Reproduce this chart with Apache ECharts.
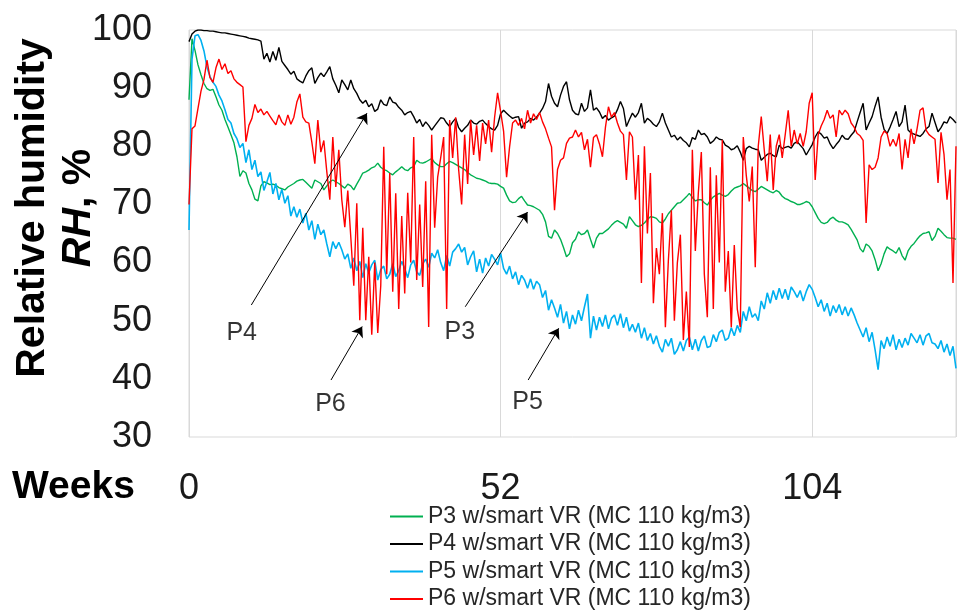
<!DOCTYPE html>
<html><head><meta charset="utf-8">
<script src="https://cdn.jsdelivr.net/npm/echarts@6/dist/echarts.min.js"></script>
<style>html,body{margin:0;padding:0;background:#fff}#c{width:959px;height:610px}</style>
</head><body><div id="c"></div>
<script>
// sampling step of the readings, in weeks
const STEP = 0.5;
const xTicks = [0, 52, 104];
const names = ['P3 w/smart VR (MC 110 kg/m3)', 'P4 w/smart VR (MC 110 kg/m3)', 'P5 w/smart VR (MC 110 kg/m3)', 'P6 w/smart VR (MC 110 kg/m3)'];

// P3 (green)
const p3 = [
88.0, 98.5, 96.5, 94.0, 92.3, 90.8, 89.9, 89.6, 89.8, 88.5,
87.1, 86.2, 84.6, 83.3, 82.0, 80.6, 78.2, 74.8, 75.8, 75.4,
73.6, 72.5, 70.9, 70.6, 73.2, 73.9, 73.7, 73.4, 73.5, 73.3,
72.9, 72.7, 72.5, 73.0, 73.3, 73.6, 74.0, 74.2, 74.3, 73.8,
73.3, 72.8, 74.2, 73.9, 73.6, 72.5, 73.2, 73.9, 74.2, 73.9,
73.6, 73.2, 72.8, 73.5, 73.2, 72.5, 73.5, 74.4, 75.4, 75.6,
75.9, 76.3, 76.5, 77.1, 76.4, 76.0, 75.8, 75.4, 75.1, 75.6,
76.0, 76.5, 76.0, 75.8, 76.3, 76.5, 77.6, 77.2, 77.1, 77.3,
77.6, 77.9, 77.2, 76.8, 76.5, 76.5, 77.0, 77.4, 77.2, 76.9,
76.6, 76.3, 76.0, 75.5, 75.1, 74.8, 74.5, 74.4, 74.2, 74.0,
73.7, 73.6, 73.6, 73.5, 73.1, 72.8, 71.6, 70.6, 70.3, 70.4,
71.0, 71.4, 70.6, 69.9, 69.8, 69.6, 69.3, 69.0, 68.3, 67.0,
64.5, 64.2, 65.6, 65.0, 64.0, 62.6, 61.0, 61.5, 63.4, 64.0,
65.3, 64.8, 65.0, 65.6, 64.0, 62.5, 64.2, 65.0, 65.0, 65.4,
65.8, 66.4, 66.9, 67.2, 66.9, 66.6, 65.9, 67.9, 67.2, 66.5,
66.2, 66.4, 66.8, 67.4, 67.9, 67.8, 67.6, 67.0, 66.8, 67.5,
68.4, 69.0, 69.6, 70.2, 70.3, 70.8, 71.3, 71.9, 71.2, 70.6,
70.8, 70.8, 70.3, 69.9, 70.7, 71.3, 71.6, 71.9, 71.6, 71.4,
71.7, 72.3, 72.8, 73.0, 73.2, 73.6, 73.2, 72.8, 72.4, 72.2,
72.6, 73.1, 72.8, 72.5, 72.2, 72.0, 72.4, 72.1, 71.4, 71.0,
70.8, 70.5, 70.3, 70.0, 70.0, 70.2, 70.5, 70.3, 69.6, 68.6,
67.6, 66.9, 66.7, 66.9, 67.5, 67.8, 67.3, 67.0, 67.0, 66.8,
66.5, 65.7, 64.8, 63.9, 62.4, 61.8, 63.2, 62.8, 62.0, 60.5,
58.6, 59.8, 61.5, 62.7, 62.3, 62.0, 61.6, 62.6, 61.2, 60.4,
62.0, 62.8, 63.3, 64.0, 64.6, 65.0, 65.1, 65.3, 63.8, 64.5,
65.9, 65.4, 64.8, 64.3, 64.2, 64.2, 64.0
];

// P4 (black)
const p4 = [
98.0, 99.3, 99.8, 100, 100, 99.9, 99.9, 99.8, 99.8, 99.7,
99.6, 99.5, 99.5, 99.4, 99.3, 99.2, 99.1, 99.0, 98.9, 98.8,
98.6, 98.5, 98.4, 98.3, 98.1, 95.0, 96.0, 94.5, 96.3, 94.8,
97.0, 94.6, 93.9, 93.2, 92.4, 92.9, 91.6, 91.2, 90.9, 92.1,
93.0, 93.5, 90.8, 91.8, 92.6, 92.0, 92.8, 93.7, 91.6, 90.5,
89.2, 91.4, 90.6, 89.7, 91.4, 89.9, 89.1, 88.0, 87.4, 87.9,
86.8, 87.3, 86.0, 86.4, 88.0, 87.2, 87.0, 88.5, 87.6, 87.4,
86.7, 86.2, 85.4, 85.8, 86.0, 85.1, 84.0, 84.6, 83.4, 84.2,
83.6, 82.8, 83.5, 84.2, 84.9, 84.8, 84.0, 83.4, 84.2, 84.8,
83.2, 82.5, 83.1, 83.6, 84.5, 84.0, 83.8, 84.3, 84.5, 83.9,
83.4, 83.0, 82.8, 83.6, 85.6, 86.2, 85.7, 85.2, 84.8, 85.0,
85.1, 83.1, 84.0, 84.2, 84.8, 84.5, 85.0, 85.7, 86.5, 87.7,
90.8, 88.6, 87.4, 86.8, 88.8, 90.3, 91.1, 88.0, 86.2, 85.6,
85.4, 87.4, 86.0, 86.6, 89.7, 86.2, 86.6, 85.9, 84.8, 85.3,
84.5, 84.9, 85.2, 86.3, 87.7, 86.5, 83.4, 84.6, 85.7, 85.0,
85.8, 87.4, 84.0, 84.8, 84.4, 83.8, 83.4, 84.2, 85.7, 84.0,
82.8, 81.6, 81.9, 81.1, 81.6, 81.0, 80.6, 79.9, 81.5, 81.2,
82.8, 82.0, 82.2, 81.6, 80.5, 80.9, 81.6, 81.2, 81.1, 80.2,
79.9, 79.4, 79.6, 80.1, 79.0, 77.6, 79.6, 80.0, 79.7, 79.5,
79.4, 77.6, 78.1, 78.6, 78.8, 78.4, 78.2, 80.2, 79.6, 79.8,
80.0, 79.7, 80.5, 80.8, 80.2, 79.6, 78.5, 79.4, 80.3, 81.6,
82.5, 82.1, 81.4, 81.6, 80.4, 79.6, 80.3, 80.9, 81.9, 81.3,
81.2, 81.9, 82.5, 84.2, 85.8, 87.4, 82.8, 84.0, 85.1, 86.9,
88.5, 85.0, 82.9, 82.2, 83.3, 84.6, 86.0, 83.4, 84.2, 87.1,
82.8, 82.3, 82.1, 81.9, 81.7, 82.2, 83.0, 83.4, 85.7, 84.1,
82.5, 83.2, 84.2, 84.0, 85.1, 84.6, 84.0
];

// P5 (blue)
const p5 = [
65.6, 95.0, 99.0, 99.2, 98.2, 96.4, 93.6, 92.0, 91.0, 90.3,
88.8, 87.8, 86.3, 84.6, 84.0, 82.2, 81.3, 79.8, 80.5, 77.2,
79.4, 76.0, 77.6, 74.8, 75.6, 72.4, 73.9, 75.5, 71.8, 73.6,
70.8, 72.6, 70.2, 71.5, 68.0, 69.6, 67.8, 69.2, 66.8, 68.5,
65.6, 67.2, 64.0, 66.6, 64.8, 65.6, 63.2, 61.0, 63.6, 62.4,
63.5, 62.2, 60.6, 61.5, 59.0, 60.8, 58.6, 60.2, 57.4, 59.8,
58.2, 59.6, 60.4, 57.0, 58.8, 59.4, 57.2, 58.0, 59.8, 57.6,
58.6, 60.2, 59.0, 57.4, 59.6, 60.4, 58.4, 57.8, 59.8, 60.6,
59.2, 61.6, 60.8, 62.2, 60.0, 58.6, 61.2, 59.4, 61.8, 62.4,
63.2, 61.8, 62.6, 59.6, 61.0, 62.0, 58.4, 60.6, 58.2, 60.8,
59.4, 61.4, 60.6, 59.6, 61.6, 59.0, 58.0, 59.4, 57.2, 58.4,
56.2, 57.8, 57.0, 55.6, 57.2, 55.4, 56.8, 56.2, 54.0, 55.2,
51.8, 53.6, 52.2, 50.6, 52.8, 49.6, 51.6, 48.6, 51.0, 49.4,
51.8, 50.0, 52.4, 54.6, 47.0, 50.8, 48.4, 50.6, 49.0, 51.0,
48.6, 50.4, 51.0, 49.2, 51.2, 48.8, 50.6, 48.2, 49.4, 48.0,
49.6, 47.0, 48.8, 46.6, 47.8, 46.0, 47.4, 45.6, 44.6, 46.8,
45.6, 47.0, 44.2, 45.0, 46.4, 44.8, 46.6, 47.2, 45.0, 46.8,
44.8, 46.6, 47.4, 45.4, 45.6, 47.6, 46.4, 48.0, 48.4, 46.6,
47.0, 48.8, 47.4, 49.2, 48.0, 51.6, 50.0, 52.4, 50.6, 51.2,
50.0, 53.4, 52.0, 54.8, 53.0, 55.2, 53.6, 55.6, 53.8, 55.4,
53.6, 55.8, 55.0, 54.0, 55.2, 53.4, 55.0, 56.2, 55.4, 54.0,
52.4, 53.6, 51.6, 53.0, 50.8, 52.6, 51.4, 52.8, 51.0, 52.4,
50.8, 52.2, 51.0, 49.6, 48.4, 47.2, 48.8, 46.4, 48.0, 45.0,
41.6, 46.6, 45.2, 47.2, 45.6, 47.6, 45.0, 46.8, 45.4, 47.0,
45.8, 47.8, 47.0, 46.2, 47.6, 45.8, 47.4, 47.8, 46.2, 46.0,
45.2, 46.6, 44.6, 46.0, 44.0, 45.6, 41.8
];

// P6 (red)
const p6 = [
70.0, 83.0, 83.5, 86.5, 89.5, 91.5, 94.8, 91.8, 91.0, 93.5,
95.0, 93.2, 94.2, 92.5, 93.0, 91.6, 91.0, 90.6, 90.2, 80.8,
83.6, 84.8, 87.2, 85.8, 86.4, 85.4, 86.0, 85.2, 84.4, 83.7,
85.4, 84.2, 83.6, 85.4, 83.8, 85.0, 87.6, 89.0, 85.0, 84.2,
84.0, 80.7, 77.0, 84.5, 79.0, 81.0, 75.6, 70.8, 81.6, 73.0,
79.4, 70.8, 66.1, 72.4, 64.4, 56.0, 70.2, 50.1, 66.0, 50.1,
61.0, 47.6, 60.0, 47.9, 56.0, 79.9, 58.0, 75.4, 55.0, 71.9,
52.0, 68.0, 54.7, 72.0, 60.0, 81.6, 57.0, 70.0, 55.8, 74.0,
48.9, 82.0, 66.0, 74.7, 78.0, 81.6, 52.0, 84.5, 78.0, 85.0,
76.0, 70.0, 82.0, 73.5, 84.5, 78.5, 83.6, 77.5, 84.0, 80.4,
84.5, 79.0, 85.0, 89.2, 86.0, 82.6, 74.7, 79.9, 84.0, 84.5,
83.6, 84.8, 83.0, 86.2, 84.0, 85.6, 84.6, 85.8, 84.2, 83.0,
81.4, 79.9, 69.0, 76.0, 77.6, 78.0, 80.5, 81.4, 81.6, 82.8,
81.6, 82.4, 79.4, 81.2, 76.4, 81.5, 82.0, 80.4, 78.2, 83.3,
86.8, 85.0, 85.8, 84.0, 82.6, 82.0, 74.2, 82.5, 81.6, 70.8,
78.5, 56.5, 80.0, 65.0, 75.4, 53.0, 62.5, 58.0, 68.5, 48.9,
60.4, 69.0, 50.0, 60.0, 64.8, 46.7, 55.0, 45.5, 79.4, 62.0,
72.0, 79.0, 58.0, 50.6, 76.4, 52.0, 75.0, 60.0, 81.1, 55.0,
62.0, 48.9, 63.0, 52.0, 48.9, 81.6, 75.0, 70.5, 76.5, 59.2,
80.0, 85.1, 79.4, 74.0, 82.0, 72.5, 80.0, 82.0, 78.0, 82.0,
86.2, 80.0, 82.8, 80.4, 82.2, 80.0, 82.5, 87.4, 89.2, 74.2,
82.0, 83.5, 84.6, 86.2, 84.8, 85.4, 81.6, 86.2, 85.4, 86.2,
85.6, 84.0, 83.3, 82.2, 81.8, 81.0, 66.8, 76.8, 76.0, 76.4,
78.0, 81.6, 82.6, 82.2, 80.0, 81.2, 80.0, 82.2, 76.0, 81.2,
78.0, 83.0, 80.4, 83.0, 86.2, 86.6, 82.8, 82.0, 81.6, 81.2,
73.7, 82.4, 78.6, 70.8, 76.0, 56.5, 80.0
];

// arrow annotations: label position, arrow tail, arrow head (week, RH)
const annLabels = ['P4', 'P6', 'P3', 'P5'];
const annText = [[8.8, 47.9], [23.6, 35.7], [45.2, 48.1], [56.5, 36.0]];
const annFrom = [[10.4, 52.7], [23.7, 39.8], [46.1, 52.4], [56.6, 39.8]];
const annTo = [[29.7, 85.7], [28.9, 49.0], [56.5, 68.7], [61.7, 48.7]];

const FONT = '"Liberation Sans", Arial, sans-serif';
const colors = ['#00B050', '#000000', '#00B0F0', '#FF0000'];
const widths = [1.4, 1.4, 1.6, 1.4];
const values = [p3, p4, p5, p6];

function pairs(vals) { return vals.map((v, i) => [i * STEP, v]); }

const chart = echarts.init(document.getElementById('c'), null, {renderer: 'canvas'});

const series = values.map((vals, k) => ({
  name: names[k], type: 'line', data: pairs(vals), symbol: 'none', showSymbol: false,
  lineStyle: {color: colors[k], width: widths[k]}, itemStyle: {color: colors[k]},
  silent: true, emphasis: {disabled: true}, animation: false
}));

series.push({
  name: 'arrows', type: 'line', data: [], silent: true, animation: false,
  markLine: {
    silent: true, animation: false, symbol: ['none', 'arrow'], symbolSize: 10,
    lineStyle: {color: '#000', width: 1, type: 'solid'}, label: {show: false},
    emphasis: {disabled: true},
    data: annFrom.map((f, i) => [{coord: f}, {coord: annTo[i]}])
  }
});
series.push({
  name: 'labels', type: 'scatter', silent: true, animation: false,
  symbolSize: 1, itemStyle: {color: 'rgba(0,0,0,0)'},
  data: annText.map((t, i) => ({value: t, name: annLabels[i]})),
  label: {show: true, position: 'inside', formatter: '{b}', fontSize: 25, color: '#000', fontFamily: FONT}
});

chart.setOption({
  animation: false,
  backgroundColor: '#fff',
  grid: {left: 189, right: 0, top: 30, bottom: 173, show: true, borderColor: '#d9d9d9', borderWidth: 1, backgroundColor: 'transparent'},
  xAxis: {
    type: 'value', min: 0, max: 128, interval: 52,
    axisLine: {show: false}, axisTick: {show: false},
    splitLine: {show: true, lineStyle: {color: '#d9d9d9', width: 1}},
    axisLabel: {margin: 34, fontSize: 36, color: '#1a1a1a', fontFamily: FONT,
      formatter: v => (xTicks.indexOf(v) >= 0 ? String(v) : '')}
  },
  yAxis: {
    type: 'value', min: 30, max: 100, interval: 10,
    axisLine: {show: false}, axisTick: {show: false}, splitLine: {show: false},
    axisLabel: {margin: 37, fontSize: 36, color: '#1a1a1a', fontFamily: FONT}
  },
  legend: {
    orient: 'vertical', left: 390, top: 505, width: 400, height: 130, padding: 0,
    itemWidth: 33, itemHeight: 2, itemGap: 4.5,
    icon: 'rect', selectedMode: false, data: names,
    textStyle: {fontSize: 23, color: '#262626', fontFamily: FONT, lineHeight: 23}
  },
  graphic: [
    {type: 'text', x: 56, y: 208, rotation: Math.PI / 2,
     style: {text: '{a|Relative humidity}\n{b|RH}{a|, %}', align: 'center', verticalAlign: 'middle',
       rich: {
         a: {fontSize: 41, fontWeight: 'bold', fontFamily: FONT, lineHeight: 46, fill: '#000'},
         b: {fontSize: 41, fontWeight: 'bold', fontStyle: 'italic', fontFamily: FONT, lineHeight: 46, fill: '#000'}
       }}},
    {type: 'text', x: 12, y: 487,
     style: {text: 'Weeks', fontSize: 39, fontWeight: 'bold', fontFamily: FONT, fill: '#000', align: 'left', verticalAlign: 'middle'}}
  ],
  series: series
});
</script></body></html>
